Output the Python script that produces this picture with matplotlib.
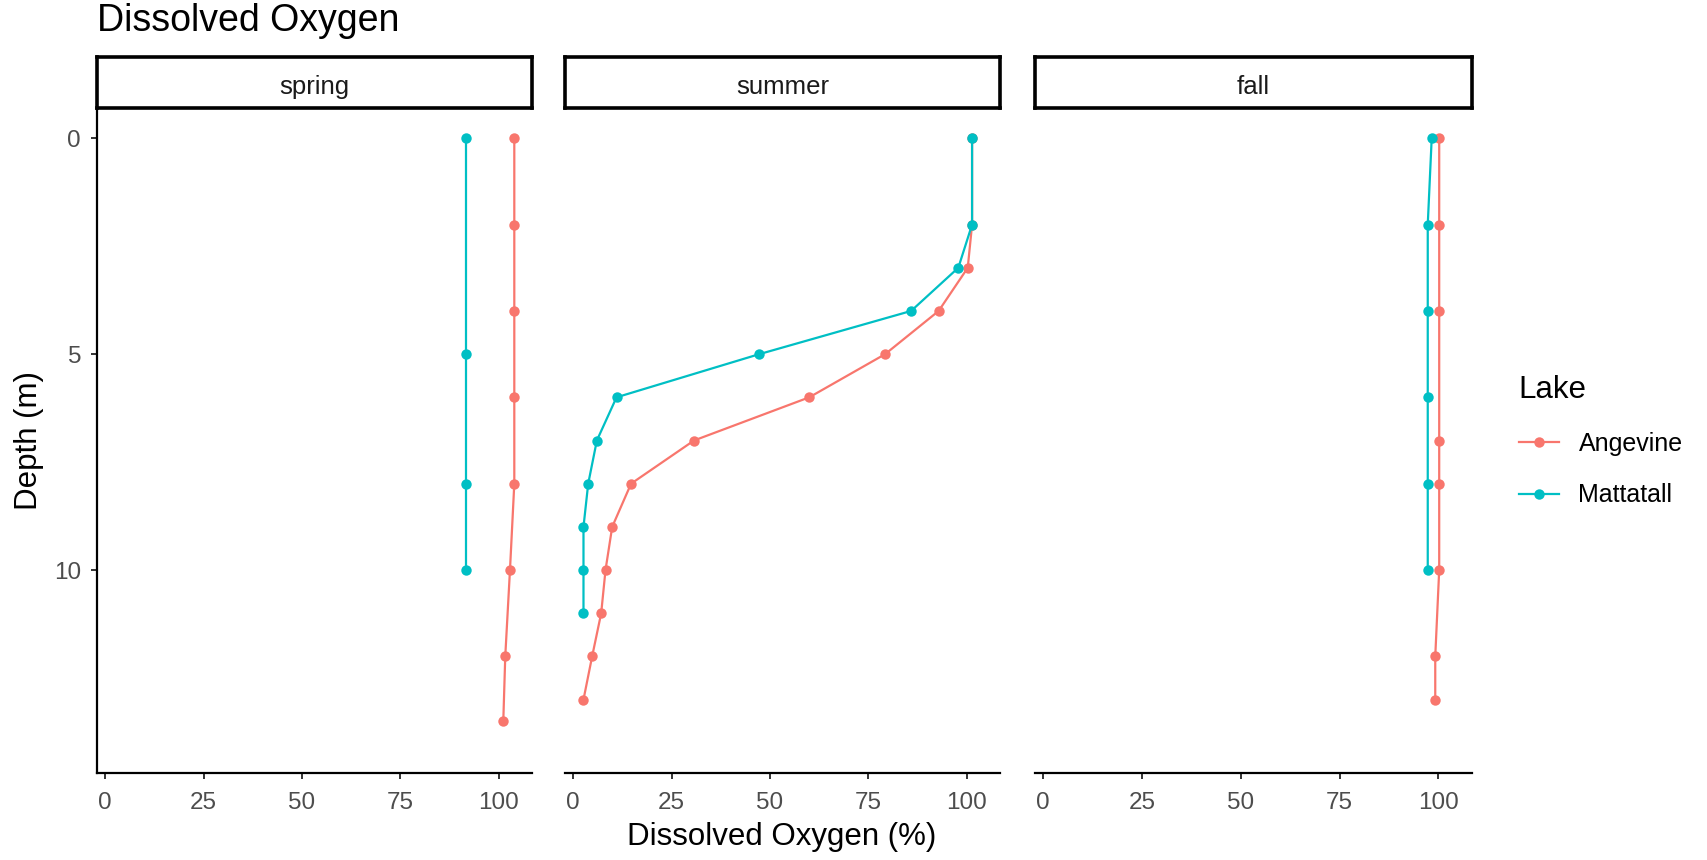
import matplotlib
matplotlib.use("Agg")
import matplotlib.pyplot as plt
from matplotlib.lines import Line2D

plt.rcParams['font.family'] = ['Liberation Sans', 'DejaVu Sans']

seasons = ["spring", "summer", "fall"]
lakes = ["Angevine", "Mattatall"]
colors = {"Angevine": "#F8766D", "Mattatall": "#00BFC4"}

# depth (m) and dissolved oxygen (%) per season / lake
spring_ang_depth = [0, 2, 4, 6, 8, 10, 12, 13.5]
spring_ang_do = [104.0, 104.0, 104.0, 104.0, 104.0, 102.9, 101.7, 101.2]
spring_mat_depth = [0, 5, 8, 10]
spring_mat_do = [91.8, 91.8, 91.8, 91.8]

summer_ang_depth = [0, 2, 3, 4, 5, 6, 7, 8, 9, 10, 11, 12, 13]
summer_ang_do = [101.4, 101.4, 100.3, 92.9, 79.3, 60.0, 30.7, 14.7, 9.9, 8.2, 7.1, 4.8, 2.6]
summer_mat_depth = [0, 2, 3, 4, 5, 6, 7, 8, 9, 10, 11]
summer_mat_do = [101.4, 101.4, 97.9, 85.9, 47.3, 11.0, 6.0, 3.8, 2.6, 2.6, 2.6]

fall_ang_depth = [0, 2, 4, 7, 8, 10, 12, 13]
fall_ang_do = [100.2, 100.2, 100.2, 100.2, 100.2, 100.2, 99.2, 99.2]
fall_mat_depth = [0, 2, 4, 6, 8, 10]
fall_mat_do = [98.3, 97.3, 97.3, 97.3, 97.3, 97.3]

data = {
    "spring": {"Angevine": (spring_ang_do, spring_ang_depth),
               "Mattatall": (spring_mat_do, spring_mat_depth)},
    "summer": {"Angevine": (summer_ang_do, summer_ang_depth),
               "Mattatall": (summer_mat_do, summer_mat_depth)},
    "fall": {"Angevine": (fall_ang_do, fall_ang_depth),
             "Mattatall": (fall_mat_do, fall_mat_depth)},
}

x_ticks = [0, 25, 50, 75, 100]
y_ticks = [0, 5, 10]

W, H = 1707, 860
fig = plt.figure(figsize=(W / 100, H / 100), dpi=100)

lefts = [97, 565, 1035]
widths = [435, 435, 437]
top, bottom = 108, 773
strip_top = 57

for i, s in enumerate(seasons):
    ax = fig.add_axes([lefts[i] / W, 1 - bottom / H, widths[i] / W, (bottom - top) / H])
    for lk in lakes:
        xs, ys = data[s][lk]
        ax.plot(xs, ys, color=colors[lk], lw=1.6, marker="o", ms=7.5, mew=0)
    ax.set_xlim(-2.1, 108.5)
    ax.set_ylim(14.7, -0.7)
    ax.set_xticks(x_ticks)
    ax.set_yticks(y_ticks)
    for sp in ["top", "right"]:
        ax.spines[sp].set_visible(False)
    ax.spines["bottom"].set_linewidth(1.6)
    ax.spines["left"].set_linewidth(1.6)
    ax.tick_params(colors="#333333", labelcolor="#4D4D4D", labelsize=17.5,
                   width=1.4, length=4.5)
    ax.tick_params(axis="x", pad=9)
    ax.tick_params(axis="y", pad=7)
    if i > 0:
        ax.spines["left"].set_visible(False)
        ax.tick_params(axis="y", left=False, labelleft=False)
    # facet strip
    strip = fig.add_axes([lefts[i] / W, 1 - top / H, widths[i] / W, (top - strip_top) / H])
    strip.set_xticks([])
    strip.set_yticks([])
    for sp in strip.spines.values():
        sp.set_linewidth(2.6)
        sp.set_color("black")
    strip.text(0.5, 0.42, s, ha="center", va="center", fontsize=18.5, color="#1A1A1A",
               transform=strip.transAxes)

fig.text(97 / W, 1 - 31 / H, "Dissolved Oxygen", fontsize=27, va="baseline", ha="left")
fig.text(782 / W, 1 - 837 / H, "Dissolved Oxygen (%)", fontsize=22.5, ha="center", va="center")
fig.text(29 / W, 1 - 440 / H, "Depth (m)", fontsize=22.5, ha="center", va="center", rotation=90)

handles = [Line2D([0], [0], color=colors[lk], lw=1.6, marker="o", ms=7.5, mew=0) for lk in lakes]
leg = fig.legend(handles, lakes, title="Lake", loc="upper left",
                 bbox_to_anchor=(1496 / W, 1 - 352 / H), frameon=False,
                 fontsize=18, title_fontsize=22.5, handlelength=1.6,
                 labelspacing=1.1, handletextpad=0.8)
leg._legend_box.align = "left"

fig.savefig("out.png", dpi=100)
